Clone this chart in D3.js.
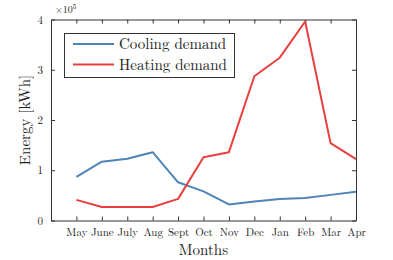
<!DOCTYPE html>
<html>
<head>
<meta charset="utf-8">
<script src="https://cdn.jsdelivr.net/npm/d3@7"></script>
<style>
  body { margin: 0; background: #fff; }
  svg text { font-family: "Latin Modern Roman", "Liberation Serif", serif; fill: #222; }
  .axis path, .axis line { stroke: #333; }
</style>
</head>
<body>
<script>
// data (kWh)
var months = ["May", "June", "July", "Aug", "Sept", "Oct", "Nov", "Dec", "Jan", "Feb", "Mar", "Apr"];
var cooling = [87000, 117000, 123000, 136000, 76000, 58000, 32000, 38000, 43000, 45000, 51000, 57000];
var heating = [41000, 27000, 27000, 27000, 43000, 126000, 136000, 287000, 324000, 396000, 154000, 122000];
var yTicks = [0, 1, 2, 3, 4];

var w = 393, h = 260;
var box = { left: 51, right: 356, top: 19.5, bottom: 220.5 };

var svg = d3.select("body").append("svg")
    .attr("width", w)
    .attr("height", h);

// scales
var xScale = d3.scaleLinear().domain([-1, months.length - 1])
    .range([box.left, box.right]);

var yScale = d3.scaleLinear().domain([0, 400000])
    .range([box.bottom, box.top]);

// axes, ticks pointing inward
var xAxis = d3.axisBottom(xScale)
    .tickValues(d3.range(months.length))
    .tickFormat(function(i){ return months[i]; })
    .tickSize(-4).tickSizeOuter(0).tickPadding(8);

var yAxis = d3.axisLeft(yScale)
    .tickValues(yTicks.map(function(t){ return t * 1e5; }))
    .tickFormat(function(v){ return v / 1e5; })
    .tickSize(-4).tickSizeOuter(0).tickPadding(8);

svg.append("g")
    .attr("class", "axis")
    .attr("transform", "translate(0," + box.bottom + ")")
    .call(xAxis);

svg.append("g")
    .attr("class", "axis")
    .attr("transform", "translate(" + box.left + ",0)")
    .call(yAxis);

// mirror ticks on top and right
svg.append("g")
    .attr("class", "axis")
    .attr("transform", "translate(0," + box.top + ")")
    .call(d3.axisTop(xScale).tickValues(d3.range(months.length)).tickFormat("").tickSize(-4).tickSizeOuter(0));

svg.append("g")
    .attr("class", "axis")
    .attr("transform", "translate(" + box.right + ",0)")
    .call(d3.axisRight(yScale).tickValues(yTicks.map(function(t){ return t * 1e5; })).tickFormat("").tickSize(-4).tickSizeOuter(0));

svg.selectAll(".axis text")
    .style("font-family", "'Latin Modern Roman', 'Liberation Serif', serif")
    .style("font-size", "11px")
    .attr("fill", "#222");

// lines
var line = function(vals){
    return d3.line()
        .x(function(d, i){ return xScale(i); })
        .y(function(d){ return yScale(d); })(vals);
};

var series = [
    { name: "Cooling demand", values: cooling, color: "#4f84b6" },
    { name: "Heating demand", values: heating, color: "#e8403f" }
];

svg.selectAll("path.series")
    .data(series)
    .enter()
    .append("path")
    .attr("class", "series")
    .attr("d", function(d){ return line(d.values); })
    .attr("fill", "none")
    .attr("stroke", function(d){ return d.color; })
    .attr("stroke-width", 2)
    .attr("stroke-linejoin", "round");

// exponent label
var expo = svg.append("text")
    .attr("x", 55)
    .attr("y", 13)
    .style("font-size", "10px");
expo.append("tspan").text("\u00d710");
expo.append("tspan").attr("dy", -4).style("font-size", "7px").text("5");

// axis titles
svg.append("text")
    .attr("x", (box.left + box.right) / 2)
    .attr("y", 255)
    .attr("text-anchor", "middle")
    .style("font-size", "15px")
    .text("Months");

svg.append("text")
    .attr("transform", "translate(30," + ((box.top + box.bottom) / 2) + ") rotate(-90)")
    .attr("text-anchor", "middle")
    .style("font-size", "15px")
    .text("Energy [kWh]");

// legend
var legend = svg.append("g");
legend.append("rect")
    .attr("x", 64.5).attr("y", 33.5)
    .attr("width", 170).attr("height", 44)
    .attr("fill", "#fff")
    .attr("stroke", "#333");

series.forEach(function(s, i){
    var ly = 44 + i * 20.5;
    legend.append("line")
        .attr("x1", 73).attr("x2", 114)
        .attr("y1", ly).attr("y2", ly)
        .attr("stroke", s.color)
        .attr("stroke-width", 2);
    legend.append("text")
        .attr("x", 119)
        .attr("y", ly + 5)
        .style("font-size", "15px")
        .text(s.name);
});
</script>
</body>
</html>
